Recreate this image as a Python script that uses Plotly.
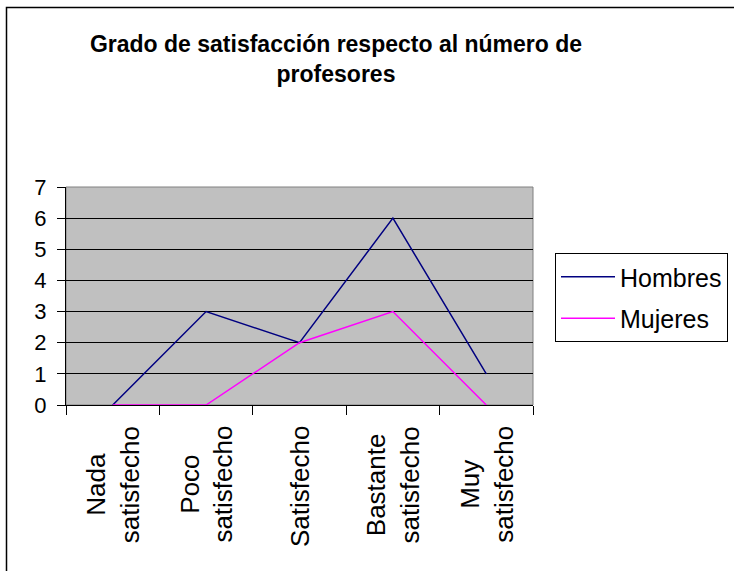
import plotly.graph_objects as go

# Survey results: satisfaction with the number of teachers
categorias = ["Nada satisfecho", "Poco satisfecho", "Satisfecho",
              "Bastante satisfecho", "Muy satisfecho"]
etiquetas = ["Nada<br>satisfecho", "Poco<br>satisfecho", "Satisfecho",
             "Bastante<br>satisfecho", "Muy<br>satisfecho"]
hombres = [0, 3, 2, 6, 1]
mujeres = [0, 0, 2, 3, 0]
y_ticks = [0, 1, 2, 3, 4, 5, 6, 7]

W, H = 734, 571
L, R, T, B = 66, 533, 187, 405  # plot-area edges in pixels
pw, ph = R - L, B - T

fig = go.Figure()
fig.add_trace(go.Scatter(x=categorias, y=hombres, name="Hombres", mode="lines",
                         line=dict(color="#000080", width=1.5),
                         legendgroup="h", cliponaxis=False))
fig.add_trace(go.Scatter(x=categorias, y=mujeres, name="Mujeres", mode="lines",
                         line=dict(color="#FF00FF", width=1.5),
                         legendgroup="m", cliponaxis=False))

# rotated two-line category labels, lines centred on each other
for cat, lab in zip(categorias, etiquetas):
    fig.add_annotation(x=cat, y=0, xref="x", yref="paper", text=lab,
                       textangle=-90, align="center", showarrow=False,
                       xanchor="center", yanchor="top", yshift=-19,
                       font=dict(family="Arial, Liberation Sans", size=26, color="black"))

# grey plot background with a thin grey border
fig.add_shape(type="rect", xref="paper", yref="paper", x0=0, y0=0, x1=1, y1=1,
              fillcolor="#C0C0C0", line=dict(color="#808080", width=1), layer="below")
# outer chart frame
fig.add_shape(type="rect", xref="paper", yref="paper",
              x0=(6.5 - L) / pw, y0=-3, x1=3, y1=(B - 7.5) / ph,
              fillcolor="rgba(0,0,0,0)", line=dict(color="black", width=1.5))

fig.update_layout(
    width=W, height=H,
    margin=dict(l=L, r=W - R, t=T, b=H - B, pad=0, autoexpand=False),
    paper_bgcolor="white", plot_bgcolor="rgba(0,0,0,0)",
    font=dict(family="Arial, Liberation Sans", color="black"),
    title=dict(text="<b>Grado de satisfacción respecto al número de<br>profesores</b>",
               x=336 / W, xref="container", xanchor="center",
               y=1 - 52 / H, yref="container", yanchor="top",
               font=dict(size=23, color="black")),
    xaxis=dict(type="category", range=[-0.5, 4.5], tickson="boundaries",
               ticks="outside", ticklen=9, tickcolor="black",
               showticklabels=False, showgrid=False,
               showline=True, linecolor="black", linewidth=1,
               layer="below traces", fixedrange=True),
    yaxis=dict(range=[0, 7], tickvals=y_ticks, ticks="outside", ticklen=8,
               tickcolor="black", showgrid=True, gridcolor="black", gridwidth=1,
               showline=True, linecolor="black", linewidth=1, zeroline=False,
               tickfont=dict(size=22), ticklabelstandoff=6,
               layer="below traces", fixedrange=True),
    legend=dict(x=(555 - L) / pw, y=(B - 253) / ph, xanchor="left", yanchor="top",
                bgcolor="white", bordercolor="black", borderwidth=1,
                font=dict(size=25), tracegroupgap=6, itemwidth=54,
                traceorder="grouped"),
    showlegend=True,
)

fig.write_html("out.html")
